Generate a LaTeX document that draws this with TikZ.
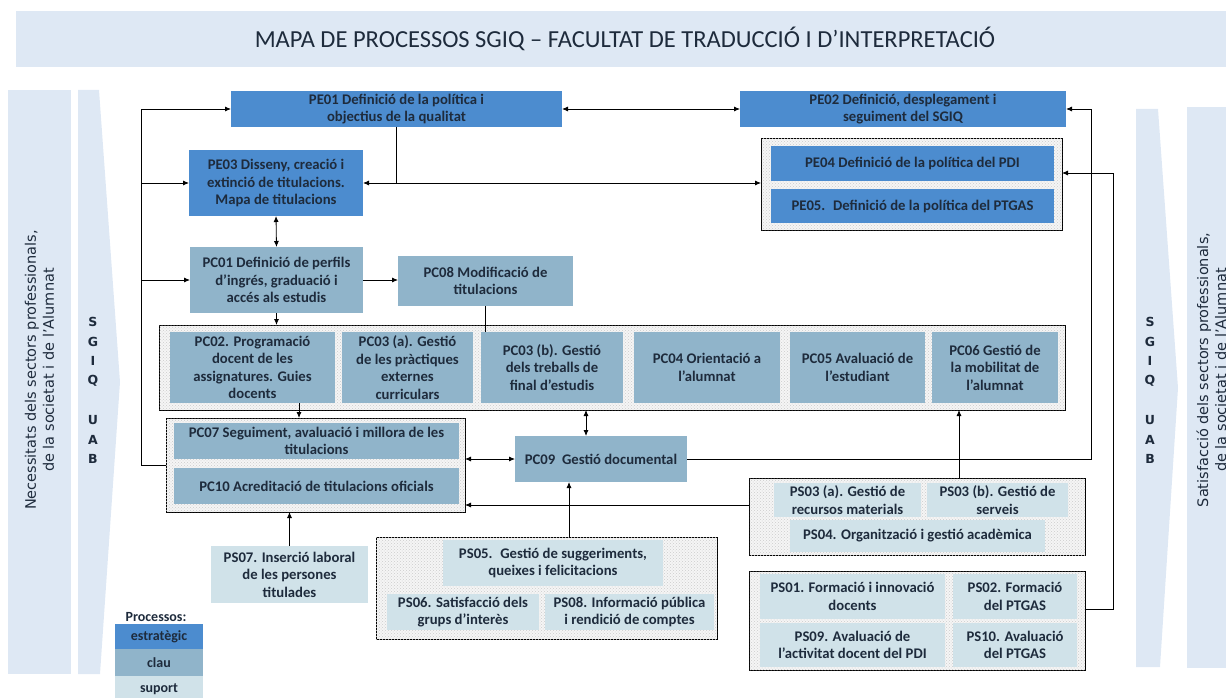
\documentclass[tikz,border=0pt]{standalone}
\usepackage{fontspec}
\setmainfont{Carlito}
\newfontfamily\sidefont{DejaVu Sans}
\usetikzlibrary{arrows.meta,patterns}

\definecolor{estrcol}{HTML}{4C8CCF}
\definecolor{claucol}{HTML}{90B4CA}
\definecolor{supcol}{HTML}{D0E2E9}
\definecolor{bandcol}{HTML}{DEE8F4}
\definecolor{ink}{HTML}{1E2B3C}

\begin{document}
\begin{tikzpicture}[x=1pt, y=-1pt, >={Latex[length=6pt,width=5pt]},
  box/.style={inner sep=1pt, outer sep=0pt, align=center, text=ink, font=\fontsize{14.7}{17.5}\selectfont\bfseries},
  pe/.style={box, fill=estrcol},
  pc/.style={box, fill=claucol},
  ps/.style={box, fill=supcol},
  grp/.style={draw, line width=0.8pt, inner sep=0pt, outer sep=0pt, fill=gray!8, postaction={pattern=crosshatch dots, pattern color=gray!40}},
  sz/.style 2 args={minimum width=#1pt, minimum height=#2pt},
  lnk/.style={line width=0.8pt},
  side/.style={rotate=90, align=center, text=ink, font=\sidefont\fontsize{14.5}{18}\selectfont},
  sgiq/.style={text=ink, font=\sidefont\bfseries\fontsize{12.5}{14}\selectfont}]
\useasboundingbox (0,0) rectangle (1226,698);

\fill[bandcol] (16,11) rectangle (1226,67);
\fill[bandcol] (8,90) rectangle (71,674);
\fill[bandcol] (78,90) -- (99,90) -- (120,382) -- (100,674) -- (78,674) -- cycle;
\fill[bandcol] (1136,109) -- (1158,109) -- (1178,388) -- (1160,667) -- (1136,667) -- cycle;
\fill[bandcol] (1187,107) rectangle (1230,668);

\node[font=\fontsize{24.5}{28}\selectfont, text=ink, anchor=base] (title) at (625,48) {MAPA DE PROCESSOS SGIQ – FACULTAT DE TRADUCCIÓ I D’INTERPRETACIÓ};

\node[side] (need) at (39.5,370) {Necessitats dels sectors professionals,\\de la societat i de l’Alumnat};
\node[side] (sat) at (1211.5,370) {Satisfacció dels sectors professionals,\\de la societat i de l’Alumnat};
\foreach \l/\y in {S/322,G/342,I/361,Q/381,U/420,A/440,B/459} {
  \node[sgiq] (l\l) at (93,\y) {\l};
  \node[sgiq] (r\l) at (1150,\y) {\l};
}

\node[pe, sz={331}{36}] (pe01) at (396.5,109) {PE01 Definició de la política i\\objectius de la qualitat};
\node[pe, sz={326}{36}] (pe02) at (903,109) {PE02 Definició, desplegament i\\seguiment del SGIQ};
\node[pe, sz={174}{66}] (pe03) at (276,183) {PE03 Disseny, creació i\\extinció de titulacions.\\Mapa de titulacions};

\node[grp, sz={301}{92}] (gpe) at (911.5,184) {};
\node[pe, sz={283}{35}] (pe04) at (912.5,163.5) {PE04 Definició de la política del PDI};
\node[pe, sz={283}{34}] (pe05) at (912.5,206) {PE05.~ Definició de la política del PTGAS};

\node[pc, sz={173}{66}] (pc01) at (276.5,280) {PC01 Definició de perfils\\d’ingrés, graduació i\\accés als estudis};
\node[pc, sz={175}{50}] (pc08) at (485.5,281) {PC08 Modificació de\\titulacions};

\node[grp, sz={906}{85}] (gpc) at (612,367.5) {};
\node[pc, sz={165}{71}] (pc02) at (252.5,367.5) {PC02. Programació\\docent de les\\assignatures. Guies\\docents};
\node[pc, sz={131}{71}] (pc03a) at (407.5,367.5) {PC03 (a). Gestió\\de les pràctiques\\externes\\curriculars};
\node[pc, sz={142}{71}] (pc03b) at (552,367.5) {PC03 (b). Gestió\\dels treballs de\\final d'estudis};
\node[pc, sz={146}{71}] (pc04) at (707,367.5) {PC04 Orientació a\\l’alumnat};
\node[pc, sz={135}{71}] (pc05) at (857.5,367.5) {PC05 Avaluació de\\l’estudiant};
\node[pc, sz={126}{71}] (pc06) at (995,367.5) {PC06 Gestió de\\la mobilitat de\\l’alumnat};

\node[grp, sz={299}{94}] (gpc07) at (315.5,465) {};
\node[pc, sz={285}{36}] (pc07) at (316.5,441) {PC07 Seguiment, avaluació i millora de les\\titulacions};
\node[pc, sz={285}{36}] (pc10) at (316.5,486) {PC10 Acreditació de titulacions oficials};

\node[pc, sz={172}{46}] (pc09) at (601,459) {PC09~ Gestió documental};

\node[grp, sz={336}{77}] (gps03) at (917,516.5) {};
\node[ps, sz={147}{34}] (ps03a) at (847.5,500) {PS03 (a). Gestió de\\recursos materials};
\node[ps, sz={141}{34}] (ps03b) at (997.5,500) {PS03 (b). Gestió de\\serveis};
\node[ps, sz={255}{32}] (ps04) at (917.5,536) {PS04. Organització i gestió acadèmica};

\node[ps, sz={157}{57}] (ps07) at (289.5,574.5) {PS07. Inserció laboral\\de les persones\\titulades};

\node[grp, sz={341}{102}] (gps05) at (546.5,588) {};
\node[ps, sz={220}{46}] (ps05) at (553,563) {PS05.~ Gestió de suggeriments,\\queixes i felicitacions};
\node[ps, sz={152}{36}] (ps06) at (463,612) {PS06. Satisfacció dels\\grups d'interès};
\node[ps, sz={169}{36}] (ps08) at (629.5,612) {PS08. Informació pública\\i rendició de comptes};

\node[grp, sz={336}{99}] (gps01) at (917,620.5) {};
\node[ps, sz={185}{45}] (ps01) at (852.5,596.5) {PS01. Formació i innovació\\docents};
\node[ps, sz={124}{45}] (ps02) at (1015,596.5) {PS02. Formació\\del PTGAS};
\node[ps, sz={185}{44}] (ps09) at (852.5,645) {PS09. Avaluació de\\l'activitat docent del PDI};
\node[ps, sz={124}{44}] (ps10) at (1015,645) {PS10. Avaluació\\del PTGAS};

\node[font=\fontsize{14}{16}\selectfont\bfseries, text=ink] (leg) at (156,617) {Processos:};
\node[pe, sz={88}{25}, font=\fontsize{14}{16}\selectfont\bfseries] (lpe) at (159,636.5) {estratègic};
\node[pc, sz={88}{27}, font=\fontsize{14}{16}\selectfont\bfseries] (lpc) at (159,662.5) {clau};
\node[ps, sz={88}{26}, font=\fontsize{14}{16}\selectfont\bfseries] (lps) at (159,689) {suport};

\coordinate (lx) at (141.5,0);
\coordinate (rx) at (1091,0);
\coordinate (j1) at (pe01.south |- pe03.east);

\draw[lnk,->] (gpc07.west) -- (gpc07.west -| lx) |- (pe01.west);
\draw[lnk,->] (pe03.west -| lx) -- (pe03.west);
\draw[lnk,->] (pc01.west -| lx) -- (pc01.west);
\draw[lnk,<->] (pe01.east) -- (pe02.west);
\draw[lnk] (pe01.south) -- (j1);
\draw[lnk,->] (j1) -- (pe03.east);
\draw[lnk,->] (j1) -- (j1 -| gpe.west);
\draw[lnk,<->] (pe03.south) -- (pc01.north);
\draw[lnk,->] (pc01.east) -- (pc01.east -| pc08.west);
\draw[lnk,->] (pc01.south) -- (pc01.south |- gpc.north);
\draw[lnk] (pc08.south) -- (pc08.south |- pc03b.north);
\draw[lnk,->] ([xshift=46.5pt]pc02.south) -- ([xshift=-16.5pt]gpc07.north);
\draw[lnk,<->] ([xshift=-26pt]gpc.south) -- ([xshift=-15pt]pc09.north);
\draw[lnk,<->] (gpc07.east |- pc09.west) -- (pc09.west);
\draw[lnk,->] (pc09.east) -- (pc09.east -| rx) |- (pe02.east);
\draw[lnk,->] ([yshift=11.5pt]gps03.west) -- ([yshift=-40pt]gpc07.east);
\draw[lnk,->] ([xshift=42pt]gps03.north) -- ([xshift=347pt]gpc.south);
\draw[lnk,->] ([xshift=22.5pt]gps05.north) -- ([xshift=-32pt]pc09.south);
\draw[lnk,->] (ps07.north) -- (ps07.north |- gpc07.south);
\draw[lnk,->] ([yshift=11.5pt]gps01.east) -- ++(28,0) |- ([yshift=11pt]gpe.east);

\end{tikzpicture}
\end{document}
